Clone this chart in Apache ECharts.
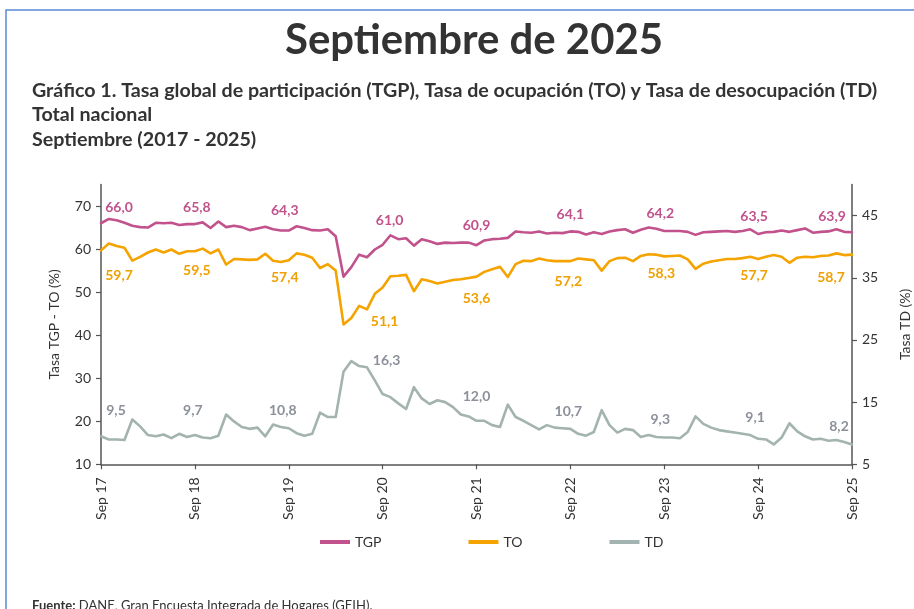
<!DOCTYPE html>
<html><head><meta charset="utf-8">
<script src="https://cdn.jsdelivr.net/npm/echarts@6/dist/echarts.min.js"></script>
<style>html,body{margin:0;padding:0;background:#fff;}#chart{width:914px;height:609px;}</style>
</head><body><div id="chart"></div>
<script>
// ---------- DATA ----------
const categories = [
 'Sep 17','Oct 17','Nov 17','Dic 17','Ene 18','Feb 18','Mar 18','Abr 18','May 18','Jun 18','Jul 18','Ago 18',
 'Sep 18','Oct 18','Nov 18','Dic 18','Ene 19','Feb 19','Mar 19','Abr 19','May 19','Jun 19','Jul 19','Ago 19',
 'Sep 19','Oct 19','Nov 19','Dic 19','Ene 20','Feb 20','Mar 20','Abr 20','May 20','Jun 20','Jul 20','Ago 20',
 'Sep 20','Oct 20','Nov 20','Dic 20','Ene 21','Feb 21','Mar 21','Abr 21','May 21','Jun 21','Jul 21','Ago 21',
 'Sep 21','Oct 21','Nov 21','Dic 21','Ene 22','Feb 22','Mar 22','Abr 22','May 22','Jun 22','Jul 22','Ago 22',
 'Sep 22','Oct 22','Nov 22','Dic 22','Ene 23','Feb 23','Mar 23','Abr 23','May 23','Jun 23','Jul 23','Ago 23',
 'Sep 23','Oct 23','Nov 23','Dic 23','Ene 24','Feb 24','Mar 24','Abr 24','May 24','Jun 24','Jul 24','Ago 24',
 'Sep 24','Oct 24','Nov 24','Dic 24','Ene 25','Feb 25','Mar 25','Abr 25','May 25','Jun 25','Jul 25','Ago 25',
 'Sep 25'];
const tgp = [
 66.0,67.0,66.7,66.1,65.4,65.1,65.0,66.1,66.0,66.1,65.6,65.8,
 65.8,66.2,64.9,66.4,65.1,65.4,65.1,64.4,64.8,65.2,64.6,64.3,
 64.3,65.3,64.9,64.4,64.3,64.6,63.0,53.6,55.8,58.7,58.1,59.9,
 61.0,63.2,62.3,62.5,60.8,62.3,61.8,61.2,61.5,61.4,61.5,61.5,
 60.9,62.0,62.3,62.4,62.6,64.1,63.9,63.8,64.1,63.6,63.8,63.7,
 64.1,64.0,63.4,63.9,63.5,64.1,64.4,64.6,63.8,64.5,65.0,64.7,
 64.2,64.2,64.2,64.0,63.3,63.9,64.0,64.1,64.2,64.0,64.2,64.6,
 63.5,63.9,64.0,64.3,64.0,64.4,64.8,63.8,64.0,64.1,64.6,64.0,
 63.9];
const to = [
 59.7,61.3,60.7,60.3,57.3,58.2,59.2,59.9,59.2,59.9,58.9,59.5,
 59.5,60.1,59.0,59.9,56.4,57.7,57.6,57.5,57.6,58.9,57.3,57.0,
 57.4,59.0,58.7,58.0,55.6,56.5,55.0,42.5,44.0,46.8,46.0,49.6,
 51.1,53.7,53.8,54.0,50.2,53.0,52.6,52.0,52.4,52.8,53.0,53.3,
 53.6,54.7,55.3,55.9,53.5,56.5,57.3,57.2,57.8,57.4,57.2,57.2,
 57.2,57.8,57.6,57.4,55.0,57.2,57.9,58.0,57.2,58.4,58.8,58.7,
 58.3,58.4,58.5,57.6,55.4,56.6,57.1,57.4,57.7,57.7,57.9,58.2,
 57.7,58.2,58.6,58.2,56.8,58.0,58.2,58.1,58.4,58.5,59.0,58.6,
 58.7];
const td = [
 9.5,9.0,9.0,8.9,12.2,11.1,9.7,9.5,9.8,9.2,9.9,9.4,
 9.7,9.3,9.2,9.6,13.0,11.9,11.0,10.7,10.9,9.5,11.4,11.0,
 10.8,10.0,9.6,9.9,13.3,12.6,12.6,19.9,21.6,20.8,20.6,18.5,
 16.3,15.8,14.8,13.9,17.4,15.6,14.7,15.3,15.0,14.2,13.0,12.7,
 12.0,12.0,11.3,11.0,14.6,12.6,12.0,11.3,10.6,11.3,10.9,10.8,
 10.7,9.9,9.6,10.2,13.7,11.3,10.1,10.7,10.5,9.4,9.7,9.4,
 9.3,9.3,9.2,10.2,12.7,11.5,10.9,10.5,10.3,10.1,9.9,9.7,
 9.1,9.0,8.2,9.3,11.6,10.3,9.5,9.0,9.1,8.8,8.9,8.6,
 8.2];
const leftTicks = [10,20,30,40,50,60,70];
const rightTicks = [5,15,25,35,45];
const labelIndices = [0,12,24,36,48,60,72,84,96];

// ---------- STYLE ----------
const FONT = 'Lato';
const C_TGP = '#c1528c', C_TO = '#f5a300', C_TD = '#a3b3af';
const L_TGP = '#c1528c', L_TO = '#f0a000', L_TD = '#8b9099';
const AX = '#555555', TXT = '#333333';
// label offsets (dx, dy) relative to the data point, in px
const offTGP = [[18,-16],[2,-17],[-4,-20],[7,-24],[0,-20],[0,-17],[-4,-18],[-4,-18],[-20,-16]];
const offTO  = [[18,25],[2,19],[-4,17],[2,34],[0,22],[-2,20],[-3,17],[-4,17],[-21,23]];
const offTD  = [[15,-26],[-2,-25],[-6,-18],[4,-34],[0,-24],[-2,-17],[-4,-18],[-3,-21],[-13,-18]];

function fmt(v){ return v.toFixed(1).replace('.', ','); }
function withLabels(arr, offs, color){
  return arr.map((v,i)=>{
    const j = labelIndices.indexOf(i);
    if (j < 0) return v;
    return {value:v, label:{show:true, position:'inside', offset:offs[j], formatter:fmt(v),
      color:color, fontFamily:FONT, fontWeight:'bold', fontSize:14}};
  });
}
function fit(text, weight, targetW, base){
  const c = document.createElement('canvas').getContext('2d');
  c.font = weight + ' ' + base + 'px ' + FONT;
  return base * targetW / c.measureText(text).width;
}
const titleText = 'Septiembre de 2025';
const sub1 = 'Gráfico 1. Tasa global de participación (TGP), Tasa de ocupación (TO) y Tasa de desocupación (TD)';
const titleSize = fit(titleText, 'bold', 378, 40);
const subSize = fit(sub1, 'bold', 846, 16);

const chart = echarts.init(document.getElementById('chart'), null, {renderer:'canvas'});
function lineSeries(name, data, color, lcolor, offs, yIdx){
  return {name, type:'line', yAxisIndex:yIdx, data:withLabels(data, offs, lcolor),
    symbol:'circle', symbolSize:0, showSymbol:true, smooth:false,
    lineStyle:{color, width:2.6, join:'round', cap:'round'}, itemStyle:{color},
    emphasis:{disabled:true}, z: 3};
}
chart.setOption({
  animation:false,
  backgroundColor:'#ffffff',
  textStyle:{fontFamily:FONT},
  grid:{left:101, right:62, top:184.5, bottom:144.7, containLabel:false, outerBoundsMode:'none'},
  legend:{left:315, top:530, itemWidth:30, itemHeight:4, itemGap:87, icon:'rect',
    textStyle:{fontFamily:FONT, fontSize:14, color:TXT},
    data:['TGP','TO','TD']},
  xAxis:{type:'category', data:categories, boundaryGap:false,
    axisLine:{lineStyle:{color:AX, width:1.5}},
    axisTick:{interval:11, length:5, lineStyle:{color:AX, width:1.2}},
    axisLabel:{interval:11, rotate:90, fontFamily:FONT, fontSize:14, color:TXT, margin:13}},
  yAxis:[
    {type:'value', min:10, max:75, position:'left',
     name:'Tasa TGP - TO (%)', nameLocation:'middle', nameGap:40, nameRotate:90,
     nameTextStyle:{fontFamily:FONT, fontSize:14, color:TXT},
     axisLine:{show:true, lineStyle:{color:AX, width:1.5}},
     axisTick:{show:true, customValues:leftTicks, length:5, lineStyle:{color:AX, width:1.2}},
     axisLabel:{customValues:leftTicks, fontFamily:FONT, fontSize:14, color:TXT, margin:10},
     splitLine:{show:false}},
    {type:'value', min:5, max:50, position:'right',
     name:'Tasa TD (%)', nameLocation:'middle', nameGap:46, nameRotate:90,
     nameTextStyle:{fontFamily:FONT, fontSize:14, color:TXT},
     axisLine:{show:true, lineStyle:{color:AX, width:1.5}},
     axisTick:{show:true, customValues:rightTicks, length:5, lineStyle:{color:AX, width:1.2}},
     axisLabel:{customValues:rightTicks, fontFamily:FONT, fontSize:14, color:TXT, margin:10},
     splitLine:{show:false}}
  ],
  series:[
    lineSeries('TGP', tgp, C_TGP, L_TGP, offTGP, 0),
    lineSeries('TO', to, C_TO, L_TO, offTO, 0),
    lineSeries('TD', td, C_TD, L_TD, offTD, 1)
  ],
  graphic:[
    {type:'rect', shape:{x:6, y:10, width:930, height:640}, style:{fill:'none', stroke:'#5a8ad4', lineWidth:1.5}, silent:true},
    {type:'text', x:474, y:40, style:{text:titleText, font:'bold '+titleSize.toFixed(1)+'px '+FONT, fill:'#333333', align:'center', verticalAlign:'middle'}},
    {type:'text', x:32, y:91, style:{text:sub1, font:'bold '+subSize.toFixed(2)+'px '+FONT, fill:'#333333', align:'left', verticalAlign:'middle'}},
    {type:'text', x:32, y:115, style:{text:'Total nacional', font:'bold '+subSize.toFixed(2)+'px '+FONT, fill:'#333333', align:'left', verticalAlign:'middle'}},
    {type:'text', x:32, y:140, style:{text:'Septiembre (2017 - 2025)', font:'bold '+subSize.toFixed(2)+'px '+FONT, fill:'#333333', align:'left', verticalAlign:'middle'}},
    {type:'text', x:32, y:599, style:{text:'{b|Fuente:} DANE, Gran Encuesta Integrada de Hogares (GEIH).',
      rich:{b:{fontWeight:'bold', fontFamily:FONT, fontSize:13, fill:'#333333'}},
      font:'13px '+FONT, fill:'#333333', align:'left', verticalAlign:'top'}}
  ]
});
</script></body></html>
